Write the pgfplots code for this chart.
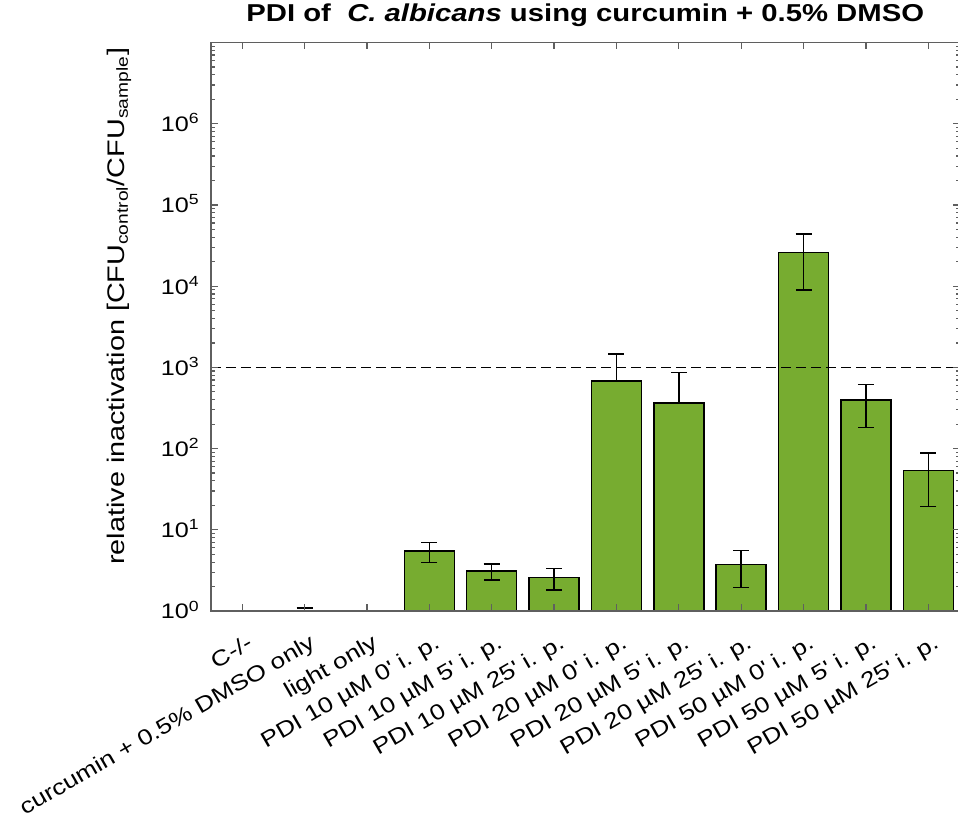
\documentclass[border=0pt]{standalone}
\usepackage{pgfplots}
\pgfplotsset{compat=1.18}
\usepackage{pgfplotstable}
\usepackage{fontspec}
\setmainfont{Liberation Sans}[FakeStretch=1.2]
\definecolor{bargreen}{RGB}{119,172,48}
\definecolor{axgray}{RGB}{95,95,95}
\newcommand\tickfont{\fontsize{10.5pt}{12pt}\selectfont}
\newcommand\xtickfont{\fontsize{10.9pt}{12pt}\selectfont}
\newcommand\labfont{\fontsize{12pt}{14pt}\selectfont}
\newcommand\titfont{\fontsize{12.2pt}{14pt}\selectfont}

\pgfplotstableread{
x y
3 5.48
4 3.10
5 2.59
6 676
7 365
8 3.75
9 26000
10 398
11 53.6
}\bartab

\pgfplotstableread{
x y ep em
0 1 0 0
1 1 0.09 0
3 5.48 1.46 1.51
4 3.10 0.68 0.70
5 2.59 0.76 0.77
6 676 786 0
7 365 502 0
8 3.75 1.78 1.80
9 26000 17700 17030
10 398 218 217
11 53.6 34.1 34.2
}\errtab

\begin{document}
\begin{tikzpicture}
\begin{axis}[
  scale only axis, width=374.25pt, height=284.25pt,
  xmin=-0.5, xmax=11.5, ymin=1, ymax=1e7, ymode=log,
  axis on top,
  axis line style={axgray, line width=0.8pt},
  tick style={axgray, line width=0.6pt},
  major tick length=3.5pt, minor tick length=2pt,
  tick align=inside, tick pos=both,
  xtick={0,1,2,3,4,5,6,7,8,9,10,11},
  xticklabels={C-/-, curcumin + 0.5\% DMSO only, light only,
    PDI 10 µM 0\textquotesingle{} i. p., PDI 10 µM 5\textquotesingle{} i. p., PDI 10 µM 25\textquotesingle{} i. p.,
    PDI 20 µM 0\textquotesingle{} i. p., PDI 20 µM 5\textquotesingle{} i. p., PDI 20 µM 25\textquotesingle{} i. p.,
    PDI 50 µM 0\textquotesingle{} i. p., PDI 50 µM 5\textquotesingle{} i. p., PDI 50 µM 25\textquotesingle{} i. p.},
  xticklabel style={font=\xtickfont, inner sep=0pt, xshift=2pt, yshift=-11pt, rotate=30, anchor=north east},
  ytick={1,10,100,1000,10000,100000,1000000,10000000},
  minor ytick={2,3,4,5,6,7,8,9,20,30,40,50,60,70,80,90,200,300,400,500,600,700,800,900,
    2000,3000,4000,5000,6000,7000,8000,9000,20000,30000,40000,50000,60000,70000,80000,90000,
    200000,300000,400000,500000,600000,700000,800000,900000,
    2000000,3000000,4000000,5000000,6000000,7000000,8000000,9000000},
  yticklabels={10\textsuperscript{0},10\textsuperscript{1},10\textsuperscript{2},10\textsuperscript{3},10\textsuperscript{4},10\textsuperscript{5},10\textsuperscript{6},{}},
  yticklabel style={font=\tickfont, inner sep=0pt, anchor=base east, xshift=-5.5pt, yshift=-4pt},
  title={\bfseries PDI of\ \ \textit{C. albicans} using curcumin + 0.5\% DMSO},
  title style={font=\titfont, at={(axis description cs:0.5,1)}, anchor=base, yshift=4.25pt},
  ylabel={relative inactivation [CFU\textsubscript{control}/CFU\textsubscript{sample}]},
  ylabel style={font=\labfont, at={([xshift=-43.3pt,yshift=10.2pt]axis description cs:0,0.5)}, anchor=base},
]
\addplot[ybar, bar width=0.8, bar shift=0pt, fill=bargreen, draw=black, line width=0.75pt] table[x=x, y=y] {\bartab};
\addplot[draw=none, mark=none, forget plot,
  error bars/.cd, y dir=both, y explicit, error mark=-,
  error bar style={draw=black, solid, line width=0.75pt},
  error mark options={draw=black, solid, rotate=90, mark size=4pt, line width=0.75pt}]
  table[x=x, y=y, y error plus=ep, y error minus=em] {\errtab};
\addplot[black, line width=0.6pt, dash pattern=on 5pt off 2.5pt, forget plot] coordinates {(-0.5,1000) (11.5,1000)};
\end{axis}
\pgfresetboundingbox
\path (-105.5pt,-103.5pt) rectangle (373.5pt,305.5pt);
\end{tikzpicture}
\end{document}
